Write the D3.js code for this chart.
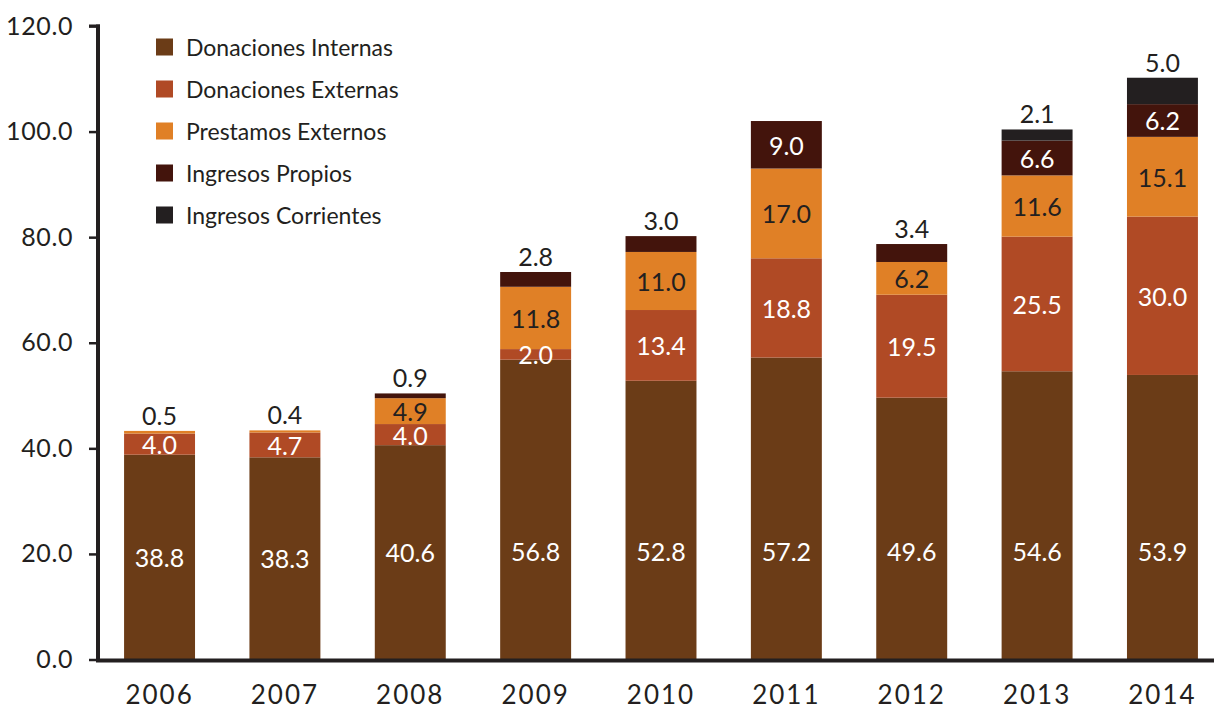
<!DOCTYPE html>
<html>
<head>
<meta charset="utf-8">
<script src="https://cdn.jsdelivr.net/npm/d3@7"></script>
<style>
  html, body { margin: 0; padding: 0; background: #ffffff; }
  svg { display: block; font-family: Lato, "Open Sans", sans-serif; }
</style>
</head>
<body>
<svg id="chart" width="1214" height="709"></svg>
<script>
const years = ["2006", "2007", "2008", "2009", "2010", "2011", "2012", "2013", "2014"];
const seriesNames = ["Donaciones Internas", "Donaciones Externas", "Prestamos Externos", "Ingresos Propios", "Ingresos Corrientes"];
const donacionesInternas = [38.8, 38.3, 40.6, 56.8, 52.8, 57.2, 49.6, 54.6, 53.9];
const donacionesExternas = [4.0, 4.7, 4.0, 2.0, 13.4, 18.8, 19.5, 25.5, 30.0];
const prestamosExternos  = [0.5, 0.4, 4.9, 11.8, 11.0, 17.0, 6.2, 11.6, 15.1];
const ingresosPropios    = [0, 0, 0.9, 2.8, 3.0, 9.0, 3.4, 6.6, 6.2];
const ingresosCorrientes = [0, 0, 0, 0, 0, 0, 0, 2.1, 5.0];
const yTicks = [0, 20, 40, 60, 80, 100, 120];

const colors = ["#6b3c17", "#b04a25", "#e08026", "#43140c", "#231f20"];
const labelColors = ["#ffffff", "#ffffff", "#231f20", "#ffffff", "#ffffff"];
const ink = "#231f20";

const seriesValues = [donacionesInternas, donacionesExternas, prestamosExternos, ingresosPropios, ingresosCorrientes];
const rows = years.map((y, i) => {
  const r = { year: y };
  seriesNames.forEach((s, k) => r[s] = seriesValues[k][i]);
  return r;
});
const stacked = d3.stack().keys(seriesNames)(rows);

const svg = d3.select("#chart");
const y = d3.scaleLinear().domain([0, 120]).range([659.5, 26]);
const x = d3.scaleBand().domain(years).range([99, 1223]).paddingInner(0.434).paddingOuter(0.2);

// bars
const g = svg.append("g");
stacked.forEach((layer, k) => {
  g.selectAll(null).data(layer).enter().append("rect")
    .attr("x", d => x(d.data.year))
    .attr("width", x.bandwidth())
    .attr("y", d => y(d[1]))
    .attr("height", d => Math.max(0, y(d[0]) - y(d[1])))
    .attr("fill", colors[k]);
});

// labels
years.forEach((yr, i) => {
  let topK = -1;
  seriesValues.forEach((vals, k) => { if (vals[i] > 0) topK = k; });
  stacked.forEach((layer, k) => {
    const v = seriesValues[k][i];
    if (!(v > 0)) return;
    const d = layer[i];
    const cx = x(yr) + x.bandwidth() / 2;
    let cy, fill;
    if (k === topK && v <= 5) {
      cy = y(d[1]) - 16;
      fill = ink;
    } else if (k === 0) {
      cy = y(Math.min(v / 2, 20.5));
      fill = labelColors[k];
    } else {
      cy = (y(d[0]) + y(d[1])) / 2;
      fill = labelColors[k];
    }
    svg.append("text")
      .attr("x", cx).attr("y", cy)
      .attr("text-anchor", "middle")
      .attr("dominant-baseline", "central")
      .attr("font-size", 25)
      .attr("fill", fill)
      .text(v.toFixed(1));
  });
});

// y axis
const yAxis = d3.axisLeft(y).tickValues(yTicks).tickFormat(d => d.toFixed(1)).tickSize(9).tickSizeOuter(0).tickPadding(16);
const ya = svg.append("g").attr("transform", "translate(98,0)").call(yAxis);
ya.select(".domain").remove();
ya.selectAll(".tick line").attr("stroke", ink).attr("stroke-width", 2.5);
ya.selectAll(".tick text").attr("font-size", 25).attr("fill", ink)
  .attr("letter-spacing", 0.6).style("font-family", "Lato, sans-serif");
svg.append("line").attr("x1", 98).attr("x2", 98).attr("y1", y(120) - 1.5).attr("y2", 662)
  .attr("stroke", ink).attr("stroke-width", 4);
svg.append("line").attr("x1", 89).attr("x2", 100).attr("y1", y(120)).attr("y2", y(120))
  .attr("stroke", ink).attr("stroke-width", 3);

// x axis
svg.append("line").attr("x1", 96).attr("x2", 1214).attr("y1", 660.5).attr("y2", 660.5)
  .attr("stroke", ink).attr("stroke-width", 4);
const xAxis = d3.axisBottom(x).tickSize(0).tickPadding(0);
const xa = svg.append("g").attr("transform", "translate(0,694)").call(xAxis);
xa.select(".domain").remove();
xa.selectAll(".tick text").attr("font-size", 26).attr("fill", ink).attr("letter-spacing", 2)
  .attr("dy", null).attr("dominant-baseline", "central").style("font-family", "Lato, sans-serif");

// legend
const legend = svg.append("g");
seriesNames.forEach((s, k) => {
  const cy = 47 + k * 42;
  legend.append("rect").attr("x", 156).attr("y", cy - 8.5).attr("width", 17).attr("height", 17).attr("fill", colors[k]);
  legend.append("text").attr("x", 186).attr("y", cy).attr("dominant-baseline", "central")
    .attr("font-size", 23).attr("fill", ink).text(s);
});
</script>
</body>
</html>
